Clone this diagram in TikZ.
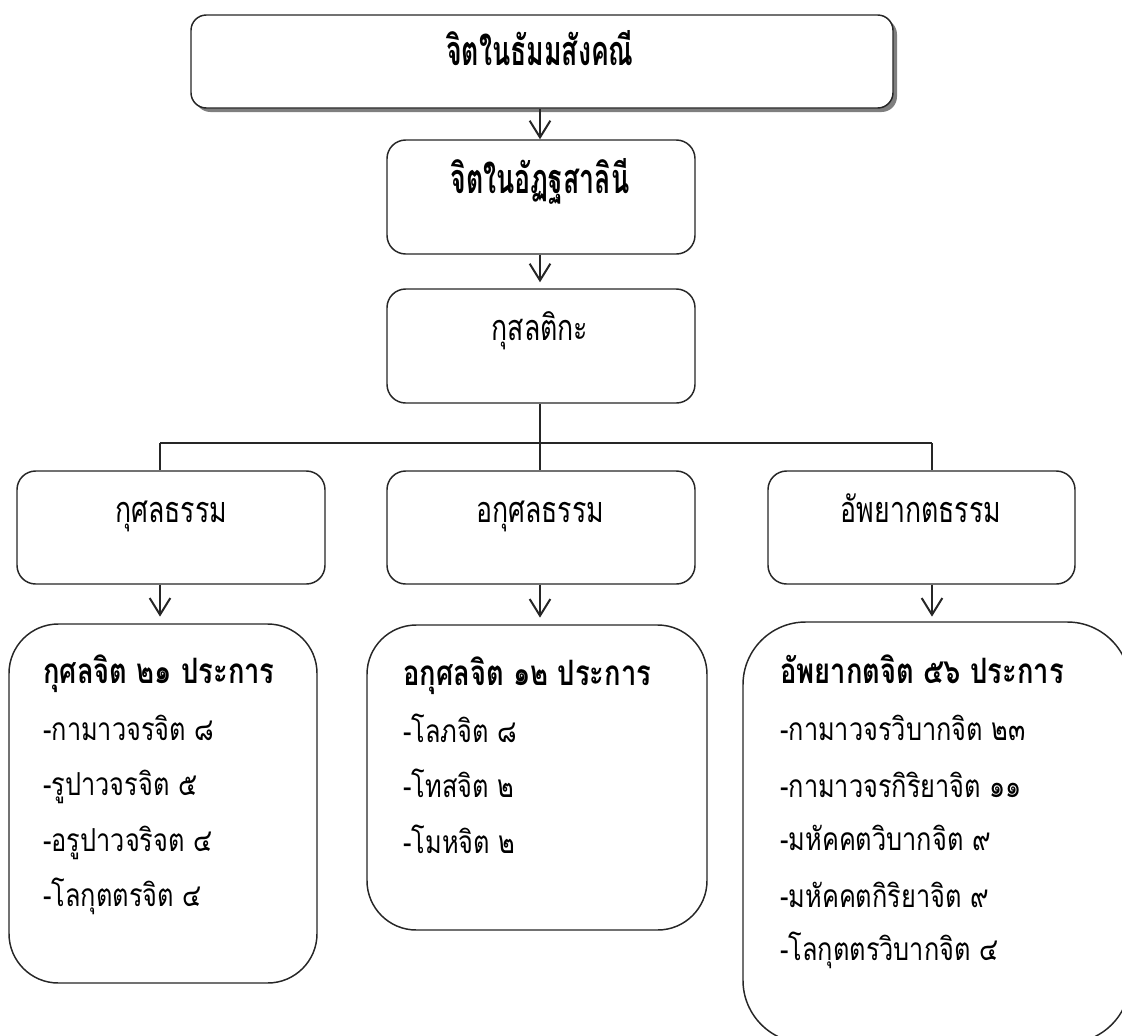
\documentclass[tikz,border=0pt]{standalone}
\usepackage{fontspec}
\usepackage{graphicx}
\newfontfamily\thai[Script=Thai]{Loma}
\usetikzlibrary{arrows.meta,calc}
\definecolor{ln}{HTML}{262626}
\definecolor{shd}{HTML}{7F7F7F}
\def\px{0.75pt}
\newcommand\tallA[1]{\scalebox{1}[1.55]{#1}}
\newcommand\tallB[1]{\scalebox{1}[1.35]{#1}}
\newcommand\tallC[1]{\scalebox{1}[1.28]{#1}}
\newcommand\tallD[1]{\scalebox{1}[1.25]{#1}}
\tikzset{
  box/.style={draw=ln, line width=1.1pt, fill=white, inner sep=0pt},
  arr/.style={draw=ln, line width=1.5pt, -{Straight Barb[length=12.5pt,width=15.5pt,line width=1.5pt]}},
  conn/.style={draw=ln, line width=1.1pt},
  ttl/.style={font=\thai\bfseries\fontsize{20}{24}\selectfont, anchor=base, inner sep=0pt, text=black},
  mid/.style={font=\thai\fontsize{20}{24}\selectfont, anchor=base, inner sep=0pt, text=black},
  bt/.style={font=\thai\bfseries\fontsize{20.5}{24}\selectfont, anchor=base west, inner sep=0pt, text=black},
  it/.style={font=\thai\fontsize{19}{23}\selectfont, anchor=base west, inner sep=0pt, text=black},
}
\begin{document}
\begin{tikzpicture}[x=0.75pt,y=-0.75pt]
\path[use as bounding box] (0,0) rectangle (1122,1036);
\clip (0,0) rectangle (1122,1036);
% top box with shadow
\fill[shd, rounded corners=11.5pt] (195,19) rectangle (897,112);
\node[box, rounded corners=11.5pt, minimum width={702*\px}, minimum height={93*\px}] (top) at (542,61.5) {};
\node[ttl] (toptxt) at (540,65) {\tallA{จิตในธัมมสังคณี}};
% second box
\node[box, rounded corners=14pt, minimum width={308*\px}, minimum height={114*\px}] (b2) at (541,197) {};
\node[ttl] (b2txt) at (540,193) {\tallA{จิตในอัฏฐสาลินี}};
% third box
\node[box, rounded corners=14pt, minimum width={308*\px}, minimum height={114*\px}] (b3) at (541,346) {};
\node[mid] (b3txt) at (540,340) {\tallB{กุสลติกะ}};
% row boxes
\node[box, rounded corners=14pt, minimum width={308*\px}, minimum height={113*\px}] (rL) at (171,527.5) {};
\node[box, rounded corners=14pt, minimum width={308*\px}, minimum height={113*\px}] (rM) at (541,527.5) {};
\node[box, rounded corners=14pt, minimum width={307*\px}, minimum height={113*\px}] (rR) at (921.5,527.5) {};
\node[mid] (rLtxt) at (171,522) {\tallB{กุศลธรรม}};
\node[mid] (rMtxt) at (540,522) {\tallB{อกุศลธรรม}};
\node[mid] (rRtxt) at (921,522) {\tallB{อัพยากตธรรม}};
% bottom boxes
\node[box, rounded corners=37pt, minimum width={308*\px}, minimum height={359*\px}] (bL) at (163,803.5) {};
\node[box, rounded corners=37pt, minimum width={340*\px}, minimum height={305*\px}] (bM) at (537,777.5) {};
\node[box, rounded corners=47pt, minimum width={387*\px}, minimum height={421*\px}] (bR) at (936.5,832.5) {};
% junction coordinates
\coordinate (jL) at (160,443);
\coordinate (jM) at (540,443);
\coordinate (jR) at (932,443);
% connectors
\draw[arr] (top.south -| jM) -- (b2.north -| jM);
\draw[arr, shorten >=4.5pt] (b2.south -| jM) -- (b3.north -| jM);
\draw[conn] (b3.south -| jM) -- (jM);
\draw[conn] (jL) -- (jR);
\draw[conn] (jL) -- (rL.north -| jL);
\draw[conn] (jM) -- (rM.north -| jM);
\draw[conn] (jR) -- (rR.north -| jR);
\draw[arr, shorten >=5pt] (rL.south -| jL) -- (bL.north -| jL);
\draw[arr, shorten >=5pt] (rM.south -| jM) -- (bM.north -| jM);
\draw[arr, shorten >=3.5pt] (rR.south -| jR) -- (bR.north -| jR);
% left bottom text
\node[bt] (l0) at (43,683) {\tallC{กุศลจิต ๒๑ ประการ}};
\node[it] (l1) at (43,740) {\tallD{-กามาวจรจิต ๘}};
\node[it] (l2) at (43,795) {\tallD{-รูปาวจรจิต ๕}};
\node[it] (l3) at (43,851) {\tallD{-อรูปาวจริจต ๔}};
\node[it] (l4) at (43,906) {\tallD{-โลกุตตรจิต ๔}};
% middle bottom text
\node[bt] (m0) at (403,685) {\tallC{อกุศลจิต ๑๒ ประการ}};
\node[it] (m1) at (403,742) {\tallD{-โลภจิต ๘}};
\node[it] (m2) at (403,797) {\tallD{-โทสจิต ๒}};
\node[it] (m3) at (403,853) {\tallD{-โมหจิต ๒}};
% right bottom text
\node[bt] (r0) at (780,683) {\tallC{อัพยากตจิต ๕๖ ประการ}};
\node[it] (r1) at (780,740) {\tallD{-กามาวจรวิบากจิต ๒๓}};
\node[it] (r2) at (780,797) {\tallD{-กามาวจรกิริยาจิต ๑๑}};
\node[it] (r3) at (780,850) {\tallD{-มหัคคตวิบากจิต ๙}};
\node[it] (r4) at (780,907) {\tallD{-มหัคคตกิริยาจิต ๙}};
\node[it] (r5) at (780,960) {\tallD{-โลกุตตรวิบากจิต ๔}};
\end{tikzpicture}
\end{document}
